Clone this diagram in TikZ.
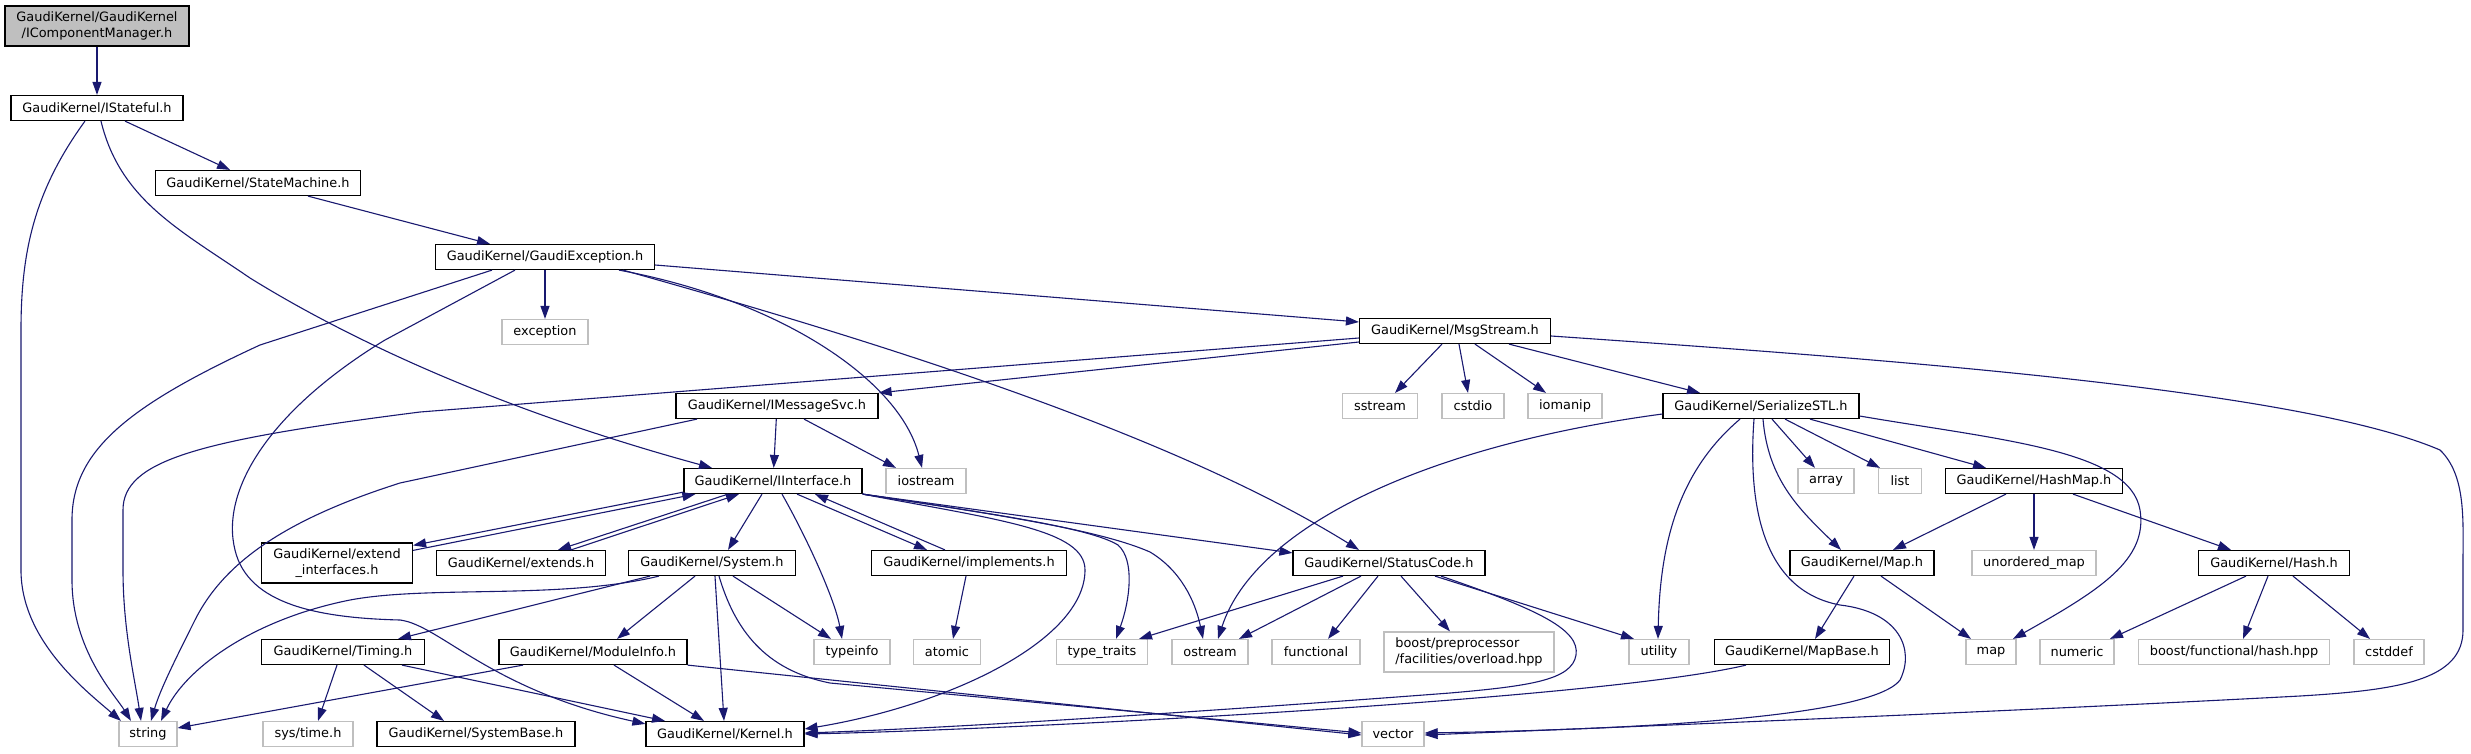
\documentclass[tikz,border=0pt]{standalone}
\usepackage{fontspec}
\setmainfont{DejaVu Sans}
\usetikzlibrary{arrows.meta}
\definecolor{edgeblue}{HTML}{191970}
\definecolor{extgray}{HTML}{BFBFBF}
\begin{document}
\begin{tikzpicture}[x=1pt,y=-1pt,
  every node/.style={font=\fontsize{12.9}{16}\selectfont, inner sep=0pt, minimum height=25pt, align=center},
  doc/.style={draw=black, line width=1.2pt, fill=white},
  ext/.style={draw=extgray, line width=1.2pt, fill=white},
  root/.style={draw=black, line width=1.2pt, fill=extgray},
  arr/.style={draw=edgeblue, line width=1.1pt, -{Triangle[length=13pt,width=9pt]}}]
\fill[white] (0,0) rectangle (2471,753);
\useasboundingbox (0,0) rectangle (2471,753);

\node[root, minimum width=184pt, minimum height=40pt] (icm) at (97,26) {GaudiKernel/GaudiKernel\\/IComponentManager.h};
\node[doc, minimum width=172pt] (istateful) at (97,108) {GaudiKernel/IStateful.h};
\node[doc, minimum width=205pt] (statemachine) at (258,183) {GaudiKernel/StateMachine.h};
\node[doc, minimum width=219pt] (gexc) at (545,257) {GaudiKernel/GaudiException.h};
\node[ext, minimum width=86pt] (exception) at (545,332) {exception};
\node[doc, minimum width=191pt] (msgstream) at (1455,331) {GaudiKernel/MsgStream.h};
\node[doc, minimum width=202pt] (imsgsvc) at (777,406) {GaudiKernel/IMessageSvc.h};
\node[ext, minimum width=75pt] (sstream) at (1380,406) {sstream};
\node[ext, minimum width=62pt] (cstdio) at (1473,406) {cstdio};
\node[ext, minimum width=74pt] (iomanip) at (1565,406) {iomanip};
\node[doc, minimum width=196pt] (serialize) at (1761,406) {GaudiKernel/SerializeSTL.h};
\node[doc, minimum width=178pt] (iinterface) at (773,481) {GaudiKernel/IInterface.h};
\node[ext, minimum width=80pt] (iostream) at (926,481) {iostream};
\node[ext, minimum width=56pt] (array) at (1826,481) {array};
\node[ext, minimum width=43pt] (list) at (1900,481) {list};
\node[doc, minimum width=177pt] (hashmap) at (2034,481) {GaudiKernel/HashMap.h};
\node[doc, minimum width=151pt, minimum height=40pt] (extendif) at (337,563) {GaudiKernel/extend\\\_interfaces.h};
\node[doc, minimum width=169pt] (extends) at (521,563) {GaudiKernel/extends.h};
\node[doc, minimum width=167pt] (system) at (712,563) {GaudiKernel/System.h};
\node[doc, minimum width=195pt] (implements) at (969,563) {GaudiKernel/implements.h};
\node[doc, minimum width=192pt] (statuscode) at (1389,563) {GaudiKernel/StatusCode.h};
\node[doc, minimum width=144pt] (maph) at (1862,563) {GaudiKernel/Map.h};
\node[ext, minimum width=124pt] (umap) at (2034,563) {unordered\_map};
\node[doc, minimum width=151pt] (hash) at (2274,563) {GaudiKernel/Hash.h};
\node[doc, minimum width=163pt] (timing) at (343,652) {GaudiKernel/Timing.h};
\node[doc, minimum width=188pt] (moduleinfo) at (593,652) {GaudiKernel/ModuleInfo.h};
\node[ext, minimum width=76pt] (typeinfo) at (852,652) {typeinfo};
\node[ext, minimum width=67pt] (atomic) at (947,652) {atomic};
\node[ext, minimum width=91pt] (typetraits) at (1102,652) {type\_traits};
\node[ext, minimum width=76pt] (ostream) at (1210,652) {ostream};
\node[ext, minimum width=88pt] (functional) at (1316,652) {functional};
\node[ext, minimum width=170pt, minimum height=40pt, align=left] (boostpp) at (1469,652) {boost/preprocessor\\/facilities/overload.hpp};
\node[ext, minimum width=60pt] (utility) at (1659,652) {utility};
\node[doc, minimum width=175pt] (mapbase) at (1802,652) {GaudiKernel/MapBase.h};
\node[ext, minimum width=50pt] (map) at (1991,652) {map};
\node[ext, minimum width=74pt] (numeric) at (2077,652) {numeric};
\node[ext, minimum width=191pt] (boosthash) at (2234,652) {boost/functional/hash.hpp};
\node[ext, minimum width=70pt] (cstddef) at (2389,652) {cstddef};
\node[ext, minimum width=58pt] (string) at (148,734) {string};
\node[ext, minimum width=90pt] (systime) at (308,734) {sys/time.h};
\node[doc, minimum width=198pt] (systembase) at (476,734) {GaudiKernel/SystemBase.h};
\node[doc, minimum width=158pt] (kernel) at (725,734) {GaudiKernel/Kernel.h};
\node[ext, minimum width=62pt] (vector) at (1393,734) {vector};

% IComponentManager / IStateful / StateMachine
\draw[arr] (icm) -- (istateful);
\draw[arr] ([xshift=28pt]istateful.south) -- ([xshift=-28pt]statemachine.north);
\draw[arr] ([xshift=-12pt]istateful.south) .. controls (35,190) and (21,250) .. (21,330) -- (21,570) .. controls (21,640) and (85,690) .. ([xshift=-27pt]string.north);
\draw[arr] ([xshift=4pt]istateful.south) .. controls (120,200) and (180,230) .. (250,278) .. controls (350,340) and (500,410) .. ([xshift=-61pt]iinterface.north);
\draw[arr] ([xshift=50pt]statemachine.south) -- ([xshift=-55pt]gexc.north);

% GaudiException
\draw[arr] (gexc) -- (exception);
\draw[arr] ([yshift=-8pt]gexc.east) -- ([yshift=9pt]msgstream.west);
\draw[arr] ([xshift=-53pt]gexc.south) -- (260,345) .. controls (130,405) and (72,450) .. (72,520) -- (72,580) .. controls (72,650) and (115,695) .. ([xshift=-17pt]string.north);
\draw[arr] ([xshift=-30pt]gexc.south) -- (385,340) .. controls (270,410) and (220,490) .. (235,550) .. controls (248,605) and (320,618) .. (400,620) .. controls (440,625) and (490,690) .. ([yshift=-3pt]kernel.north west);
\draw[arr] ([xshift=74pt]gexc.south) .. controls (780,300) and (900,380) .. ([xshift=-4pt]iostream.north);
\draw[arr] ([xshift=78pt]gexc.south) .. controls (800,320) and (1150,420) .. ([xshift=-30pt]statuscode.north);

% MsgStream
\draw[arr] ([xshift=-13pt]msgstream.south) -- ([xshift=15pt]sstream.north);
\draw[arr] ([xshift=4pt]msgstream.south) -- ([xshift=-5pt]cstdio.north);
\draw[arr] ([xshift=20pt]msgstream.south) -- ([xshift=-19pt]iomanip.north);
\draw[arr] ([xshift=54pt]msgstream.south) -- ([xshift=-61pt]serialize.north);
\draw[arr] ([yshift=-5pt]msgstream.east) .. controls (1900,360) and (2300,390) .. (2440,450) .. controls (2466,475) and (2463,520) .. (2463,560) -- (2463,630) .. controls (2463,680) and (2400,690) .. (2300,696) .. controls (2000,712) and (1600,728) .. ([yshift=-1pt]vector.east);
\draw[arr] ([yshift=-7pt]msgstream.west) -- (420,412) .. controls (200,440) and (123,460) .. (123,510) -- (123,570) .. controls (123,630) and (135,680) .. ([xshift=-7pt]string.north);
\draw[arr] ([yshift=-11pt]msgstream.west) -- (imsgsvc.north east);

% IMessageSvc
\draw[arr] ([xshift=-80pt]imsgsvc.south) -- (400,483) .. controls (290,518) and (225,560) .. (195,620) .. controls (175,660) and (160,690) .. ([xshift=3pt]string.north);
\draw[arr] (imsgsvc) -- (iinterface);
\draw[arr] ([xshift=27pt]imsgsvc.south) -- ([xshift=-30pt]iostream.north);

% IInterface
\draw[arr] ([yshift=2pt]iinterface.south west) -- ([yshift=-3pt]extendif.north east);
\draw[arr] ([yshift=-8pt]extendif.north east) -- ([xshift=12pt]iinterface.south west);
\draw[arr] ([xshift=-45pt]iinterface.south) -- ([xshift=37pt]extends.north);
\draw[arr] ([xshift=50pt]extends.north) -- ([xshift=-34pt]iinterface.south);
\draw[arr] ([xshift=-11pt]iinterface.south) -- ([xshift=16pt]system.north);
\draw[arr] ([xshift=24pt]iinterface.south) -- ([xshift=-42pt]implements.north);
\draw[arr] ([xshift=-24pt]implements.north) -- ([xshift=42pt]iinterface.south);
\draw[arr] ([xshift=9pt]iinterface.south) .. controls (808,540) and (835,600) .. ([xshift=-10pt]typeinfo.north);
\draw[arr] (iinterface.south east) .. controls (1000,520) and (1085,530) .. (1085,570) .. controls (1085,640) and (950,705) .. ([yshift=5pt]kernel.east);
\draw[arr] (iinterface.south east) .. controls (1000,515) and (1090,528) .. (1118,545) .. controls (1135,560) and (1130,600) .. ([xshift=14pt]typetraits.north);
\draw[arr] (iinterface.south east) .. controls (1000,515) and (1100,530) .. (1150,552) .. controls (1180,570) and (1195,600) .. ([xshift=-7pt]ostream.north);
\draw[arr] (iinterface.south east) -- ([yshift=-3pt]statuscode.north west);

% StatusCode
\draw[arr] ([xshift=-46pt]statuscode.south) -- ([xshift=37pt]typetraits.north);
\draw[arr] ([xshift=-28pt]statuscode.south) -- ([xshift=29pt]ostream.north);
\draw[arr] ([xshift=-11pt]statuscode.south) -- ([xshift=12pt]functional.north);
\draw[arr] ([xshift=12pt]statuscode.south) -- ([xshift=-19pt]boostpp.north);
\draw[arr] ([xshift=46pt]statuscode.south) -- ([xshift=-25pt]utility.north);
\draw[arr] ([xshift=52pt]statuscode.south) .. controls (1540,610) and (1580,630) .. (1576,655) .. controls (1572,680) and (1530,686) .. (1450,693) .. controls (1200,712) and (950,728) .. ([yshift=1pt]kernel.east);

% SerializeSTL
\draw[arr] ([yshift=-8pt]serialize.west) .. controls (1430,445) and (1255,525) .. ([xshift=8pt]ostream.north);
\draw[arr] ([xshift=-21pt]serialize.south) .. controls (1680,470) and (1660,540) .. ([xshift=-1pt]utility.north);
\draw[arr] ([xshift=-7pt]serialize.south) .. controls (1748,500) and (1760,590) .. (1840,605) .. controls (1900,612) and (1915,650) .. (1900,680) .. controls (1870,720) and (1600,730) .. ([yshift=1pt]vector.east);
\draw[arr] ([xshift=2pt]serialize.south) .. controls (1768,480) and (1800,510) .. ([xshift=-21pt]maph.north);
\draw[arr] ([xshift=11pt]serialize.south) -- ([xshift=-11pt]array.north);
\draw[arr] ([xshift=24pt]serialize.south) -- ([xshift=-20pt]list.north);
\draw[arr] ([xshift=49pt]serialize.south) -- ([xshift=-48pt]hashmap.north);
\draw[arr] ([yshift=-10pt]serialize.east) .. controls (2000,440) and (2130,450) .. (2140,510) .. controls (2148,560) and (2100,590) .. ([xshift=22pt]map.north);

% HashMap, Hash, Map, MapBase
\draw[arr] ([xshift=-28pt]hashmap.south) -- ([xshift=31pt]maph.north);
\draw[arr] (hashmap) -- (umap);
\draw[arr] ([xshift=39pt]hashmap.south) -- ([xshift=-43pt]hash.north);
\draw[arr] ([xshift=-28pt]hash.south) -- ([xshift=33pt]numeric.north);
\draw[arr] ([xshift=-6pt]hash.south) -- ([xshift=9pt]boosthash.north);
\draw[arr] ([xshift=19pt]hash.south) -- ([xshift=-19pt]cstddef.north);
\draw[arr] ([xshift=-8pt]maph.south) -- ([xshift=13pt]mapbase.north);
\draw[arr] ([xshift=19pt]maph.south) -- ([xshift=-20pt]map.north);
\draw[arr] ([xshift=-56pt]mapbase.south) .. controls (1600,700) and (1000,730) .. (kernel.east);

% System
\draw[arr] ([xshift=-53pt]system.south) .. controls (560,600) and (430,585) .. (350,600) .. controls (250,620) and (185,670) .. ([xshift=13pt]string.north);
\draw[arr] ([xshift=-62pt]system.south) -- ([xshift=55pt]timing.north);
\draw[arr] ([xshift=-17pt]system.south) -- ([xshift=24pt]moduleinfo.north);
\draw[arr] ([xshift=3pt]system.south) -- ([xshift=-1pt]kernel.north);
\draw[arr] ([xshift=21pt]system.south) -- ([xshift=-21pt]typeinfo.north);
\draw[arr] ([xshift=7pt]system.south) .. controls (735,630) and (765,670) .. (830,683) -- ([yshift=1pt]vector.west);

% implements, Timing, ModuleInfo
\draw[arr] ([xshift=-3pt]implements.south) -- ([xshift=6pt]atomic.north);
\draw[arr] ([xshift=-6pt]timing.south) -- ([xshift=10pt]systime.north);
\draw[arr] ([xshift=21pt]timing.south) -- ([xshift=-32pt]systembase.north);
\draw[arr] ([xshift=59pt]timing.south) -- ([xshift=-60pt]kernel.north);
\draw[arr] ([xshift=-70pt]moduleinfo.south) -- ([yshift=6pt]string.east);
\draw[arr] ([xshift=21pt]moduleinfo.south) -- ([xshift=-21pt]kernel.north);
\draw[arr] (moduleinfo.south east) -- ([yshift=-1pt]vector.west);
\end{tikzpicture}
\end{document}
